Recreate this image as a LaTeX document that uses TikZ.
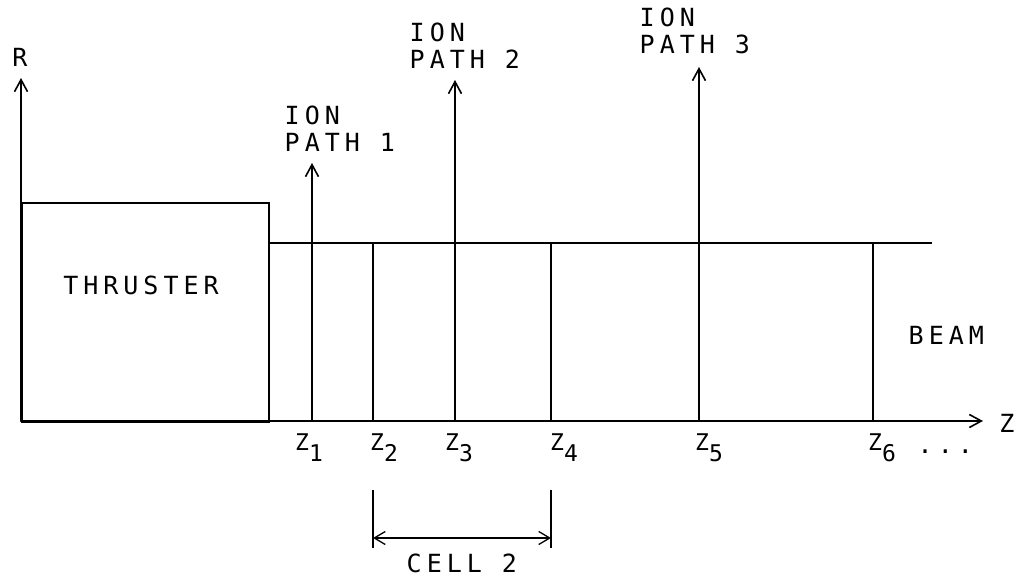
\documentclass[tikz,border=0pt]{standalone}
\usepackage{fontspec}
\newfontfamily\plotfont{DejaVu Sans Mono}[LetterSpace=20]
\newfontfamily\zfont{DejaVu Sans Mono}[LetterSpace=8]
\usetikzlibrary{arrows.meta}
\begin{document}
\begin{tikzpicture}[x=1pt,y=-1pt,
  ln/.style={line width=1.8pt,line cap=round},
  thin/.style={line width=1.3pt},
  arr/.style={ln,-{Straight Barb[length=12pt,width=13pt,line width=1.6pt]}},
  darr/.style={line width=1.3pt,{Straight Barb[length=11pt,width=13pt,line width=1.3pt]}-{Straight Barb[length=11pt,width=13pt,line width=1.3pt]}},
  lab/.style={font=\plotfont\fontsize{25}{27}\selectfont,inner sep=0pt},
  ml/.style={lab,align=left,anchor=north west},
  zl/.style={font=\zfont\fontsize{23}{25}\selectfont,inner sep=0pt,anchor=base west}]
\useasboundingbox (0,0) rectangle (1018,578);
% coordinates
\coordinate (O) at (21,421);
\coordinate (Rtip) at (21,78);
\coordinate (Ztip) at (983,421);
\coordinate (bt) at (268,243);
\coordinate (be) at (932,243);
\coordinate (z1) at (312,421); \coordinate (z1t) at (312,163);
\coordinate (z2) at (373,421); \coordinate (z2t) at (373,243);
\coordinate (z3) at (455,421); \coordinate (z3t) at (455,80);
\coordinate (z4) at (551,421); \coordinate (z4t) at (551,243);
\coordinate (z5) at (699,421); \coordinate (z5t) at (699,67);
\coordinate (z6) at (873,421); \coordinate (z6t) at (873,243);
\coordinate (cl1) at (373,490); \coordinate (cl2) at (373,548);
\coordinate (cr1) at (551,490); \coordinate (cr2) at (551,548);
\coordinate (ca) at (373,538); \coordinate (cb) at (551,538);
% thruster
\node[draw,ln,minimum width=247pt,minimum height=219pt,inner sep=0pt,anchor=north west] (thr) at (21,202) {};
\node[lab] (thrl) at (141,285) {THRUSTER};
% axes
\draw[arr] (O) -- (Rtip);
\draw[arr] (O) -- (Ztip);
\node[lab] (R) at (20,57) {R};
\node[lab] (Z) at (1007,423) {Z};
% beam
\draw[thin] (bt) -- (be);
\draw[thin] (z2) -- (z2t);
\draw[thin] (z4) -- (z4t);
\draw[thin] (z6) -- (z6t);
\node[lab,anchor=west] (beam) at (908.5,335) {BEAM};
% ion paths
\draw[arr] (z1) -- (z1t);
\draw[arr] (z3) -- (z3t);
\draw[arr] (z5) -- (z5t);
\node[ml] (ip1) at (284.5,106) {ION\\PATH 1};
\node[ml] (ip2) at (409.5,23) {ION\\PATH 2};
\node[ml] (ip3) at (639.5,8) {ION\\PATH 3};
% z labels
\node[zl] (lz1) at (295,450) {Z\raisebox{-11pt}{1}};
\node[zl] (lz2) at (370,450) {Z\raisebox{-11pt}{2}};
\node[zl] (lz3) at (445,450) {Z\raisebox{-11pt}{3}};
\node[zl] (lz4) at (550,450) {Z\raisebox{-11pt}{4}};
\node[zl] (lz5) at (695,450) {Z\raisebox{-11pt}{5}};
\node[zl] (lz6) at (868,450) {Z\raisebox{-11pt}{6}};
\node[lab,anchor=base west] (dots) at (917.5,453) {...};
% cell 2
\draw[thin] (cl1) -- (cl2);
\draw[thin] (cr1) -- (cr2);
\draw[darr] (ca) -- (cb);
\node[lab,anchor=west] (cell) at (406.5,563) {CELL 2};
\end{tikzpicture}
\end{document}
